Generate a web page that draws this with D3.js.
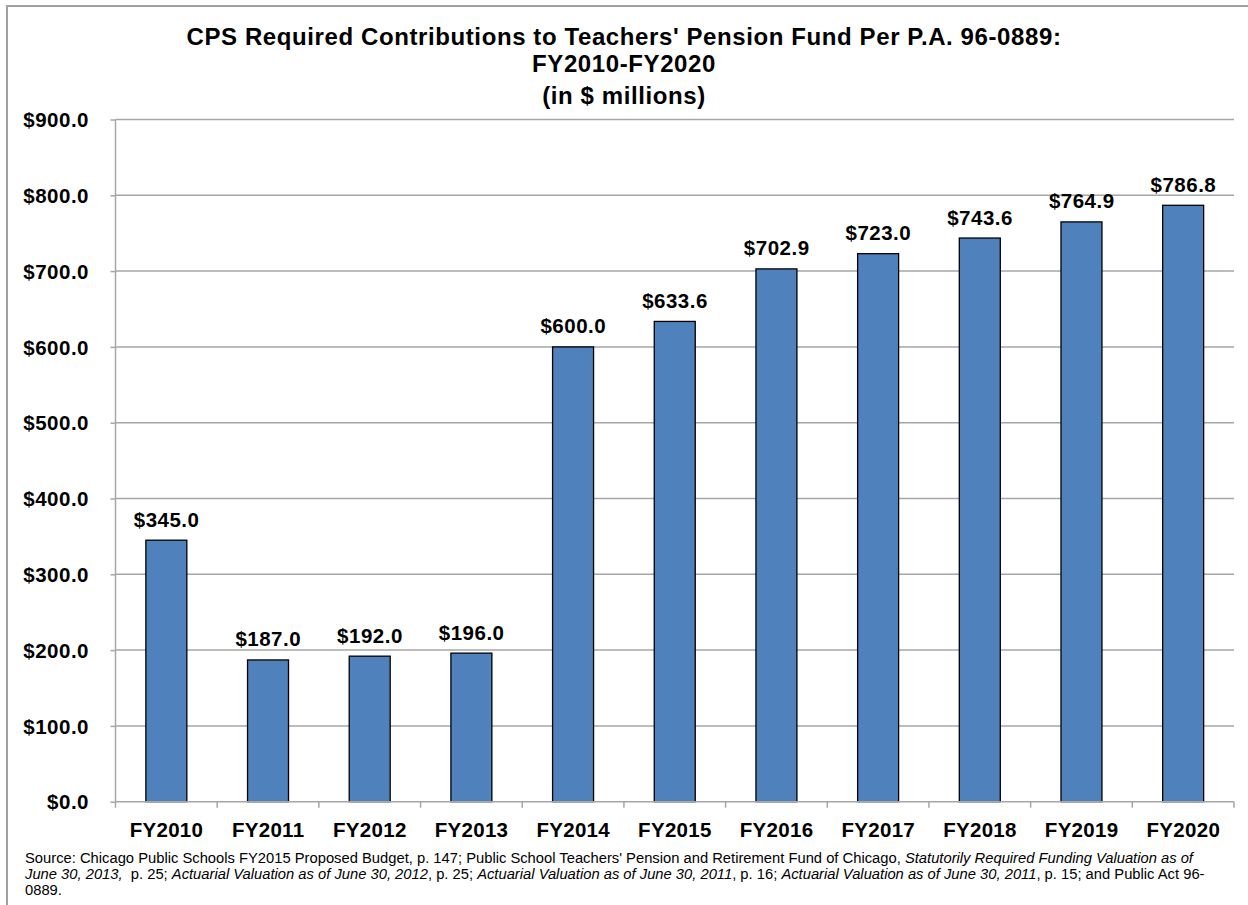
<!DOCTYPE html>
<html>
<head>
<meta charset="utf-8">
<script src="https://cdn.jsdelivr.net/npm/d3@7"></script>
<style>
  body { margin: 0; background: #fff; }
  text { font-family: "Liberation Sans", Arial, sans-serif; }
</style>
</head>
<body>
<div id="chart"></div>
<script>
// Chart data
var years = ["FY2010", "FY2011", "FY2012", "FY2013", "FY2014", "FY2015", "FY2016", "FY2017", "FY2018", "FY2019", "FY2020"];
var contributions = [345.0, 187.0, 192.0, 196.0, 600.0, 633.6, 702.9, 723.0, 743.6, 764.9, 786.8];
var yTicks = [0, 100, 200, 300, 400, 500, 600, 700, 800, 900];
var titleLines = ["CPS Required Contributions to Teachers' Pension Fund Per P.A. 96-0889:", "FY2010-FY2020", "(in $ millions)"];

var svgWidth = 1248;
var svgHeight = 905;

var chartMargin = { top: 119.5, right: 14, bottom: 103.3, left: 115.5 };
var chartWidth = svgWidth - chartMargin.left - chartMargin.right;
var chartHeight = svgHeight - chartMargin.top - chartMargin.bottom;

var gridColor = "#a6a6a6";

var svg = d3.select("#chart")
    .append("svg")
    .attr("width", svgWidth)
    .attr("height", svgHeight);

// outer border (only top and left edges fall inside the picture)
svg.append("rect")
    .attr("x", 7).attr("y", 6)
    .attr("width", 1400).attr("height", 1100)
    .attr("fill", "none")
    .attr("stroke", "#a0a0a0")
    .attr("stroke-width", 2);

// title
svg.append("text")
    .attr("text-anchor", "middle")
    .style("font-size", "24px")
    .style("font-weight", "bold")
    .style("letter-spacing", "0.6px")
    .selectAll("tspan")
    .data(titleLines)
    .enter()
    .append("tspan")
    .attr("x", 624)
    .attr("y", (d, i) => [45, 72, 104][i])
    .text(d => d);

var chartGroup = svg.append("g")
    .attr("transform", `translate(${chartMargin.left}, ${chartMargin.top})`);

var pad = 0.597;
var xScale = d3.scaleBand()
    .domain(years)
    .range([0, chartWidth])
    .paddingInner(pad)
    .paddingOuter(pad / 2);

var yScale = d3.scaleLinear()
    .domain([0, 900])
    .range([chartHeight, 0]);

// gridlines
chartGroup.append("g")
    .selectAll("line")
    .data(yTicks.filter(d => d > 0))
    .enter()
    .append("line")
    .attr("x1", 0)
    .attr("x2", chartWidth)
    .attr("y1", d => yScale(d))
    .attr("y2", d => yScale(d))
    .attr("stroke", gridColor)
    .attr("stroke-width", 1.5);

// y axis
var leftAxis = d3.axisLeft(yScale)
    .tickValues(yTicks)
    .tickSize(5)
    .tickPadding(21.5)
    .tickFormat(d => "$" + d3.format(".1f")(d));
var yAxisG = chartGroup.append("g").call(leftAxis);
yAxisG.select(".domain")
    .attr("stroke", gridColor)
    .attr("stroke-width", 1.5)
    .attr("d", `M0,${chartHeight}V0`);
yAxisG.selectAll(".tick line")
    .attr("stroke", gridColor)
    .attr("stroke-width", 1.5);
yAxisG.selectAll("text")
    .style("font-size", "20.5px")
    .style("font-weight", "bold")
    .style("letter-spacing", "0.5px")
    .attr("fill", "#000")
    .attr("dy", "0.35em");

// bars
chartGroup.selectAll("rect.bar")
    .data(contributions)
    .enter()
    .append("rect")
    .attr("class", "bar")
    .attr("x", (d, i) => xScale(years[i]))
    .attr("y", d => yScale(d))
    .attr("width", xScale.bandwidth())
    .attr("height", d => chartHeight - yScale(d))
    .attr("fill", "#4f81bd")
    .attr("stroke", "#000")
    .attr("stroke-width", 1.3);

// value labels
chartGroup.selectAll("text.val")
    .data(contributions)
    .enter()
    .append("text")
    .attr("class", "val")
    .attr("x", (d, i) => xScale(years[i]) + xScale.bandwidth() / 2 + 0.25)
    .attr("y", d => yScale(d) - 13.5)
    .attr("text-anchor", "middle")
    .style("font-size", "20.5px")
    .style("font-weight", "bold")
    .style("letter-spacing", "0.5px")
    .text(d => "$" + d3.format(".1f")(d));

// x axis line and ticks at category boundaries
var step = xScale.step();
var bounds = years.map(d => xScale(d) - step * pad / 2).concat([chartWidth]);
chartGroup.append("line")
    .attr("x1", 0).attr("x2", chartWidth)
    .attr("y1", chartHeight).attr("y2", chartHeight)
    .attr("stroke", gridColor)
    .attr("stroke-width", 1.5);
chartGroup.append("g")
    .selectAll("line")
    .data(bounds)
    .enter()
    .append("line")
    .attr("x1", d => d).attr("x2", d => d)
    .attr("y1", chartHeight).attr("y2", chartHeight + 6)
    .attr("stroke", gridColor)
    .attr("stroke-width", 1.5);

chartGroup.selectAll("text.cat")
    .data(years)
    .enter()
    .append("text")
    .attr("class", "cat")
    .attr("x", d => xScale(d) + xScale.bandwidth() / 2 + 0.15)
    .attr("y", chartHeight + 35)
    .attr("text-anchor", "middle")
    .style("font-size", "20.5px")
    .style("font-weight", "bold")
    .style("letter-spacing", "0.3px")
    .text(d => d);

// source note
var sourceLines = [
    [["Source: Chicago Public Schools FY2015 Proposed Budget, p. 147; Public School Teachers' Pension and Retirement Fund of Chicago, ", false],
     ["Statutorily Required Funding Valuation as of", true]],
    [["June 30, 2013,", true], ["  p. 25; ", false], ["Actuarial Valuation as of June 30, 2012", true], [", p. 25; ", false],
     ["Actuarial Valuation as of June 30, 2011", true], [", p. 16; ", false], ["Actuarial Valuation as of June 30, 2011", true],
     [", p. 15; and Public Act 96-", false]],
    [["0889.", false]]
];
var note = svg.append("g").attr("class", "note");
sourceLines.forEach((parts, i) => {
    var t = note.append("text")
        .attr("x", 25)
        .attr("y", 863 + i * 16)
        .style("font-size", "14.75px")
        .attr("xml:space", "preserve")
        .style("white-space", "pre");
    parts.forEach(p => {
        t.append("tspan")
            .style("font-style", p[1] ? "italic" : "normal")
            .text(p[0]);
    });
});
</script>
</body>
</html>
